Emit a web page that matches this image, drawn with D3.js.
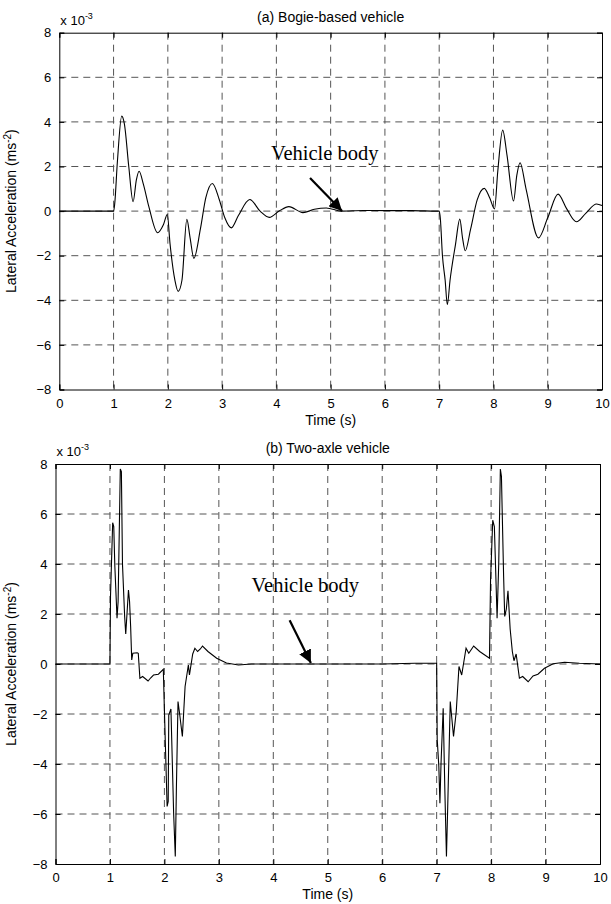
<!DOCTYPE html>
<html>
<head>
<meta charset="utf-8">
<script src="https://cdn.jsdelivr.net/npm/d3@7"></script>
<style>
  body { margin: 0; background: #fff; }
  svg { display: block; }
  text { font-family: "Liberation Sans", Arial, sans-serif; fill: #000; }
</style>
</head>
<body>
<svg width="611" height="904"></svg>
<script>
// ---- data (acceleration in units of 1e-3 m/s^2) ----
var xTicks = [0, 1, 2, 3, 4, 5, 6, 7, 8, 9, 10];
var yTicks = [-8, -6, -4, -2, 0, 2, 4, 6, 8];

var timeA = [0, 0.9, 1.0, 1.02, 1.07, 1.15, 1.2, 1.28, 1.36, 1.42, 1.47, 1.55, 1.65, 1.81, 1.92, 1.99,
  2.04, 2.13, 2.19, 2.26, 2.35, 2.41, 2.48, 2.6, 2.7, 2.82, 2.95, 3.05, 3.17, 3.3, 3.51, 3.7, 3.87,
  4.05, 4.23, 4.49, 4.7, 4.92, 5.2, 5.6, 6.0, 6.5, 6.95, 7.0, 7.02, 7.06, 7.11, 7.15, 7.2, 7.3, 7.38,
  7.43, 7.48, 7.58, 7.7, 7.83, 7.93, 8.02, 8.08, 8.17, 8.25, 8.37, 8.43, 8.49, 8.6, 8.83, 9.0, 9.19,
  9.35, 9.53, 9.7, 9.9, 10];
var accelA = [0, 0, 0, 0.3, 2.2, 4.26, 3.9, 2.0, 0.42, 1.4, 1.79, 1.2, 0.2, -0.97, -0.6, -0.15,
  -1.45, -3.1, -3.6, -3.1, -0.37, -1.2, -2.12, -0.8, 0.6, 1.24, 0.5, -0.3, -0.75, -0.2, 0.52, 0.0, -0.28,
  0.0, 0.2, -0.07, 0.08, 0.14, 0.0, 0.03, 0.02, 0.02, 0.0, 0.0, -0.3, -2.0, -3.1, -4.2, -3.1, -1.5, -0.36,
  -1.2, -1.78, -0.8, 0.5, 1.02, 0.6, 0.1, 1.8, 3.63, 2.5, 0.45, 1.6, 2.17, 1.0, -1.2, -0.3, 0.76,
  0.1, -0.48, -0.1, 0.32, 0.25];

var timeB = [0, 1.0, 1.01, 1.05, 1.07, 1.09, 1.13, 1.15, 1.19, 1.21, 1.23, 1.27, 1.29, 1.34, 1.36, 1.38,
  1.40, 1.42, 1.5, 1.52, 1.55, 1.6, 1.7, 1.75, 1.8, 1.89, 1.98, 2.0, 2.05, 2.07, 2.08, 2.12, 2.17, 2.2,
  2.22, 2.25, 2.28, 2.33, 2.38, 2.44, 2.46, 2.52, 2.56, 2.61, 2.66, 2.7, 2.8, 2.96, 3.14, 3.36, 3.6,
  4.0, 5.0, 6.0, 6.6, 7.0, 7.01, 7.04, 7.06, 7.08, 7.12, 7.15, 7.18, 7.2, 7.25, 7.28, 7.31, 7.36, 7.41,
  7.46, 7.54, 7.59, 7.68, 7.79, 7.97, 7.99, 8.03, 8.06, 8.11, 8.14, 8.17, 8.19, 8.23, 8.25, 8.28, 8.31,
  8.35, 8.39, 8.42, 8.46, 8.52, 8.58, 8.68, 8.77, 8.86, 8.98, 9.14, 9.35, 9.62, 10];
var accelB = [0, 0, 2.7, 5.65, 5.5, 3.9, 1.83, 2.5, 7.8, 7.7, 4.0, 1.9, 1.2, 2.96, 2.5, 1.5,
  0.16, 0.43, 0.45, 0.43, -0.57, -0.5, -0.68, -0.55, -0.44, -0.41, -0.21, -1.84, -5.7, -5.5, -2.04, -1.8, -6.0, -7.7,
  -5.0, -1.5, -2.0, -2.9, -0.9, -0.04, -0.44, 0.4, 0.63, 0.5, 0.6, 0.72, 0.5, 0.23, 0.04, -0.04, 0.0,
  0.0, 0.0, 0.0, 0.03, 0.03, -3.0, -4.1, -5.57, -4.0, -1.77, -5.0, -7.7, -6.0, -1.5, -2.2, -2.9, -1.9, -0.1,
  -0.44, 0.63, 0.43, 0.72, 0.5, 0.23, 3.36, 5.75, 5.5, 1.83, 4.0, 7.8, 7.5, 3.5, 1.9, 2.2, 2.93,
  1.4, 0.5, 0.13, 0.4, -0.57, -0.5, -0.71, -0.48, -0.41, -0.17, 0.01, 0.07, 0.03, 0.0];

var titles = ["(a) Bogie-based vehicle", "(b) Two-axle vehicle"];
var noteLabel = "Vehicle body";
// annotation anchors in data units: text start, arrow tail, arrow tip
var noteA = {text: [3.9, 2.3], tail: [4.62, 1.48], tip: [5.21, 0]};
var noteB = {text: [3.6, 2.9], tail: [4.3, 1.75], tip: [4.69, 0.04]};

var svg = d3.select("svg");

svg.append("defs").append("marker")
  .attr("id", "head")
  .attr("viewBox", "0 0 10 10")
  .attr("refX", 10).attr("refY", 5)
  .attr("markerWidth", 13).attr("markerHeight", 13)
  .attr("markerUnits", "userSpaceOnUse")
  .attr("orient", "auto")
  .append("path").attr("d", "M0,0L10,5L0,10z").attr("fill", "#000");

function panel(box, title, times, accel, curve, note) {
  var x = d3.scaleLinear().domain([0, 10]).range([box.left, box.right]);
  var y = d3.scaleLinear().domain([-8, 8]).range([box.bottom, box.top]);
  var g = svg.append("g");

  // dashed grid
  g.selectAll(".gx").data(xTicks.slice(1, -1)).enter().append("line")
    .attr("x1", d => x(d)).attr("x2", d => x(d))
    .attr("y1", box.top).attr("y2", box.bottom)
    .attr("stroke", "#555").attr("stroke-dasharray", "7,5");
  g.selectAll(".gy").data(yTicks.slice(1, -1)).enter().append("line")
    .attr("y1", d => y(d)).attr("y2", d => y(d))
    .attr("x1", box.left).attr("x2", box.right)
    .attr("stroke", "#555").attr("stroke-dasharray", "7,5");

  // signal
  var line = d3.line().x((d, i) => x(times[i])).y(d => y(d)).curve(curve);
  g.append("path").datum(accel).attr("d", line)
    .attr("fill", "none").attr("stroke", "#000").attr("stroke-width", 1.1);

  // axes, ticks inward on all sides
  var tl = 5;
  g.append("g").attr("transform", "translate(0," + box.bottom + ")")
    .call(d3.axisBottom(x).tickValues(xTicks).tickSize(-tl).tickPadding(tl + 4).tickFormat(d3.format("d")));
  g.append("g").attr("transform", "translate(0," + box.top + ")")
    .call(d3.axisTop(x).tickValues(xTicks).tickSize(-tl).tickFormat(""));
  g.append("g").attr("transform", "translate(" + box.left + ",0)")
    .call(d3.axisLeft(y).tickValues(yTicks).tickSize(-tl).tickPadding(tl + 3).tickFormat(d3.format("d")));
  g.append("g").attr("transform", "translate(" + box.right + ",0)")
    .call(d3.axisRight(y).tickValues(yTicks).tickSize(-tl).tickFormat(""));
  g.selectAll(".domain").attr("stroke", "#000");
  g.selectAll(".tick line").attr("stroke", "#000");
  g.selectAll(".tick text").style("font-size", "13px").attr("font-family", "Liberation Sans, Arial, sans-serif");

  // texts
  g.append("text").attr("x", (box.left + box.right) / 2).attr("y", box.top - 11)
    .attr("text-anchor", "middle").style("font-size", "14px").text(title);
  var ex = g.append("text").attr("x", box.left + 1).attr("y", box.top - 8).style("font-size", "13px");
  ex.append("tspan").text("x 10");
  ex.append("tspan").attr("dy", -6).style("font-size", "9px").text("-3");
  g.append("text").attr("x", (box.left + box.right) / 2).attr("y", box.bottom + 35)
    .attr("text-anchor", "middle").style("font-size", "14px").text("Time (s)");
  var yl = g.append("text")
    .attr("transform", "translate(16," + (box.top + box.bottom) / 2 + ") rotate(-90)")
    .attr("text-anchor", "middle").style("font-size", "14px");
  yl.append("tspan").text("Lateral Acceleration (ms");
  yl.append("tspan").attr("dy", -5).style("font-size", "10px").text("-2");
  yl.append("tspan").attr("dy", 5).text(")");

  // annotation
  g.append("text").attr("x", x(note.text[0])).attr("y", y(note.text[1]))
    .style("font-family", "Liberation Serif, Times New Roman, serif").style("font-size", "20.5px").text(noteLabel);
  g.append("line")
    .attr("x1", x(note.tail[0])).attr("y1", y(note.tail[1]))
    .attr("x2", x(note.tip[0])).attr("y2", y(note.tip[1]))
    .attr("stroke", "#000").attr("stroke-width", 2.2).attr("marker-end", "url(#head)");
}

panel({left: 59.3, right: 602, top: 32.7, bottom: 389.5}, titles[0], timeA, accelA, d3.curveMonotoneX, noteA);
panel({left: 55.5, right: 600, top: 464, bottom: 864}, titles[1], timeB, accelB, d3.curveLinear, noteB);
</script>
</body>
</html>
